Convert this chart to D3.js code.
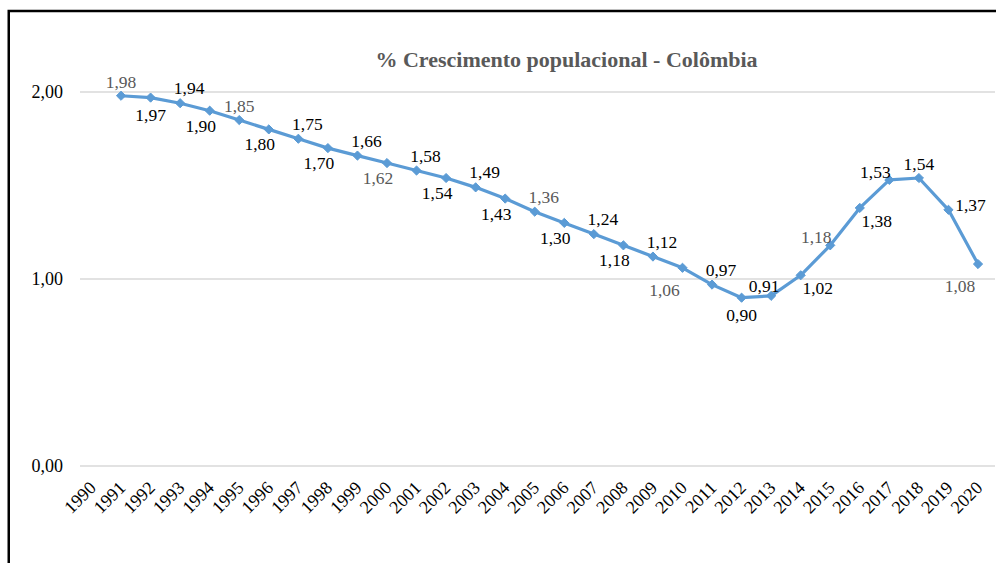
<!DOCTYPE html>
<html>
<head>
<meta charset="utf-8">
<script src="https://cdn.jsdelivr.net/npm/d3@7/dist/d3.min.js"></script>
<style>
  html, body { margin: 0; padding: 0; background: #fff; }
  svg { display: block; font-family: "Liberation Serif", "Times New Roman", serif; }
</style>
</head>
<body>
<svg id="chart" width="996" height="563"></svg>
<script>
// Categories on the x axis (1990 has no value)
const years = d3.range(1990, 2021).map(String);

// Annual population growth, % (1991-2020)
const valueYears = d3.range(1991, 2021).map(String);
const growth = [1.98, 1.97, 1.94, 1.90, 1.85, 1.80, 1.75, 1.70, 1.66, 1.62,
                1.58, 1.54, 1.49, 1.43, 1.36, 1.30, 1.24, 1.18, 1.12, 1.06,
                0.97, 0.90, 0.91, 1.02, 1.18, 1.38, 1.53, 1.54, 1.37, 1.08];

// Y axis ticks
const yTicks = [0, 1, 2];

// Label placement around each point
const labelPlace = ['t', 'b', 'tr', 'bl', 't', 'bl', 'tr', 'bl', 'tr', 'bl',
                    'tr', 'bl', 'tr', 'bl', 'tr', 'bl', 'tr', 'bl', 'tr', 'bll',
                    'tr', 'b', 'tl2', 'br', 'tl', 'br', 'tl', 't', 'r', 'bll'];

// Labels shown in the muted grey
const mutedYears = ['1991', '1995', '2000', '2005', '2010', '2015', '2020'];

const title = '% Crescimento populacional - Colômbia';

const fmt = v => d3.format('.2f')(v).replace('.', ',');

const svg = d3.select('#chart');
const W = 996, H = 563;

// Outer frame (runs past the right and bottom edges)
svg.append('rect')
  .attr('x', 8.75).attr('y', 11).attr('width', W + 20).attr('height', H + 20)
  .attr('fill', 'none').attr('stroke', '#000').attr('stroke-width', 2.5);

const x = d3.scalePoint().domain(years).range([91.5, 978]);
const y = d3.scaleLinear().domain([0, 2]).range([466, 92]);

const gridLeft = 80, gridRight = 995;

// Horizontal gridlines
svg.append('g').selectAll('line').data(yTicks).join('line')
  .attr('x1', gridLeft).attr('x2', gridRight)
  .attr('y1', d => y(d)).attr('y2', d => y(d))
  .attr('stroke', '#d9d9d9').attr('stroke-width', 1.3);

// Y axis labels
const yAxis = d3.axisLeft(y).tickValues(yTicks).tickFormat(fmt).tickSize(0).tickPadding(0);
const gy = svg.append('g').attr('transform', 'translate(63,0)').call(yAxis);
gy.select('.domain').remove();
gy.selectAll('text')
  .attr('font-family', '"Liberation Serif", serif')
  .attr('font-size', 18).attr('fill', '#000');

// X axis labels, rotated
const xAxis = d3.axisBottom(x).tickSize(0).tickPadding(0);
const gx = svg.append('g').attr('transform', 'translate(0,466)').call(xAxis);
gx.select('.domain').remove();
gx.selectAll('.tick text')
  .attr('font-family', '"Liberation Serif", serif')
  .attr('font-size', 18).attr('fill', '#000')
  .attr('text-anchor', 'end')
  .attr('dy', null).attr('y', 0)
  .attr('transform', 'translate(5,23) rotate(-45)');

// Title
svg.append('text')
  .attr('x', 566.5).attr('y', 67)
  .attr('text-anchor', 'middle')
  .attr('font-size', 22).attr('font-weight', 'bold').attr('fill', '#595959')
  .text(title);

const pts = growth.map((v, i) => ({ year: valueYears[i], v, place: labelPlace[i] }));

// Series line
const line = d3.line().x(d => x(d.year)).y(d => y(d.v));
svg.append('path').datum(pts)
  .attr('d', line)
  .attr('fill', 'none').attr('stroke', '#5B9BD5')
  .attr('stroke-width', 3.2).attr('stroke-linejoin', 'round');

// Diamond markers
const r = 4.6;
svg.append('g').selectAll('path').data(pts).join('path')
  .attr('transform', d => `translate(${x(d.year)},${y(d.v)})`)
  .attr('d', `M0,${-r}L${r},0L0,${r}L${-r},0Z`)
  .attr('fill', '#5B9BD5').attr('stroke', '#5B9BD5').attr('stroke-width', 1);

// Offsets (label centre, baseline) for each placement code
const offsets = {
  t:   [0, -8],
  b:   [0, 23],
  tr:  [9, -9],
  bl:  [-9, 21],
  tl:  [-14, -2],
  tl2: [-7, -4],
  br:  [17, 19],
  r:   [22, 1],
  bll: [-18, 28]
};

// Data labels
svg.append('g').selectAll('text').data(pts).join('text')
  .attr('x', d => x(d.year) + offsets[d.place][0])
  .attr('y', d => y(d.v) + offsets[d.place][1])
  .attr('text-anchor', 'middle')
  .attr('font-size', 17.5)
  .attr('fill', d => mutedYears.includes(d.year) ? '#595959' : '#000')
  .text(d => fmt(d.v));
</script>
</body>
</html>
